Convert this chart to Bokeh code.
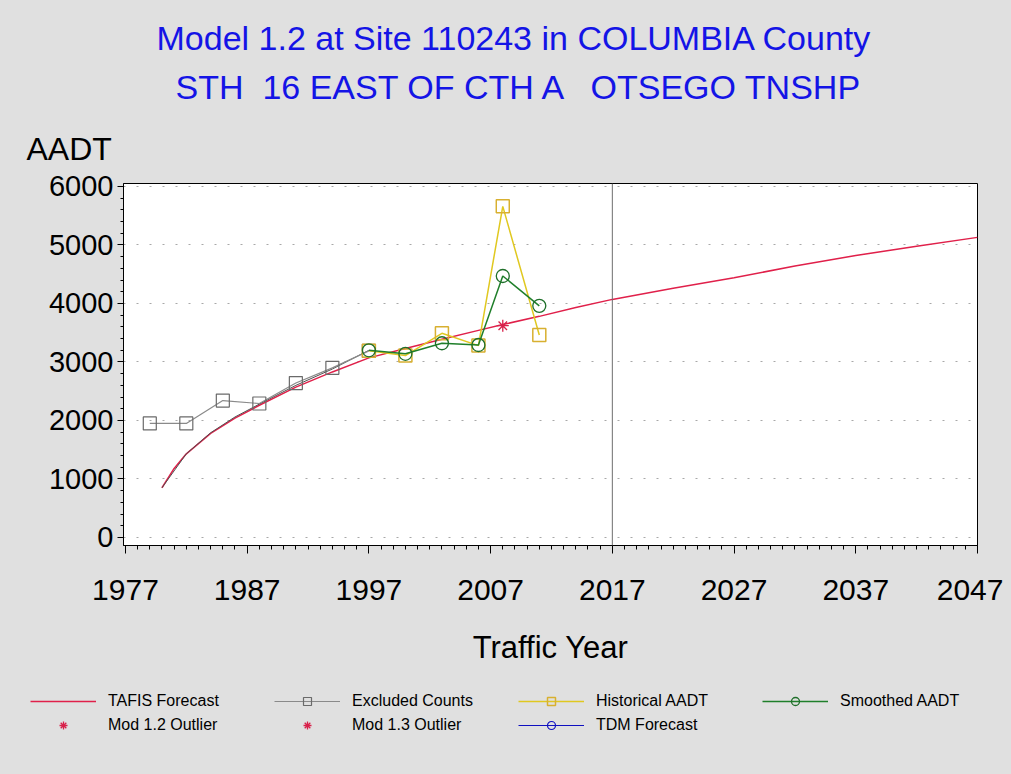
from bokeh.plotting import figure
from bokeh.models import Title, Legend, LegendItem, Span, Range1d, FixedTicker
from bokeh.embed import file_html
from bokeh.resources import INLINE

# ---- data ----
title_line1 = "Model 1.2 at Site 110243 in COLUMBIA County"
title_line2 = "STH \u00a016 EAST OF CTH A \u00a0\u00a0OTSEGO TNSHP"

x_ticks = [1977, 1987, 1997, 2007, 2017, 2027, 2037, 2047]
y_ticks = [0, 1000, 2000, 3000, 4000, 5000, 6000]

tafis_years = [1980, 1981, 1982, 1984, 1986, 1988, 1991, 1994, 1997, 2000, 2003,
               2006, 2008, 2011, 2014, 2017, 2022, 2027, 2032, 2037, 2042, 2047]
tafis_aadt = [850, 1180, 1430, 1780, 2040, 2260, 2570, 2830, 3070, 3230, 3390,
              3540, 3640, 3780, 3930, 4070, 4260, 4440, 4640, 4820, 4980, 5130]

fit_years = [1980, 1982, 1984, 1986, 1988, 1991, 1994, 1997]
fit_aadt = [850, 1430, 1790, 2060, 2280, 2600, 2880, 3200]

excl_years = [1979, 1982, 1985, 1988, 1991, 1994, 1997]
excl_aadt = [1950, 1950, 2340, 2290, 2640, 2900, 3190]

hist_years = [1997, 2000, 2003, 2006, 2008, 2011]
hist_aadt = [3190, 3110, 3490, 3280, 5660, 3460]

smooth_years = [1997, 2000, 2003, 2006, 2008, 2011]
smooth_aadt = [3200, 3140, 3320, 3290, 4470, 3960]

out12_years = [2008]
out12_aadt = [3620]

out13_years = []
out13_aadt = []
tdm_years = []
tdm_aadt = []

forecast_start = 2017

legend_labels = ["TAFIS Forecast", "Excluded Counts", "Historical AADT", "Smoothed AADT",
                 "Mod 1.2 Outlier", "Mod 1.3 Outlier", "TDM Forecast"]

FONT = "Liberation Sans"
BG = "#e0e0e0"

# styles
S_TAFIS = dict(line_color="#e0204a", line_width=1.5)
S_EXCL_L = dict(line_color="#8a8a8a", line_width=1.2)
S_EXCL_M = dict(marker="square", size=13, fill_color=None, line_color="#6a6a6a", line_width=1.2)
S_HIST_L = dict(line_color="#e0c820", line_width=1.5)
S_HIST_M = dict(marker="square", size=13, fill_color=None, line_color="#d8b030", line_width=1.5)
S_TDM_L = dict(line_color="#1010c0", line_width=1.2)
S_TDM_M = dict(marker="circle", size=11, fill_color=None, line_color="#1010c0", line_width=1.2)
S_SM_L = dict(line_color="#1f7f2a", line_width=1.5)
S_SM_M = dict(marker="circle", size=13, fill_color=None, line_color="#1f6f2a", line_width=1.3)
S_OUT = dict(marker="asterisk", size=12, line_color="#d8204a", line_width=1.3)

p = figure(frame_width=854, frame_height=362,
           x_range=Range1d(1976.84, 2047), y_range=Range1d(-137, 6051),
           output_backend="svg", toolbar_location=None,
           min_border_left=123, min_border_right=26,
           min_border_top=183, min_border_bottom=135,
           background_fill_color="white", border_fill_color=BG,
           outline_line_color="black", outline_line_width=1)

# axes
p.xaxis.ticker = FixedTicker(ticks=x_ticks, minor_ticks=list(range(1977, 2048)))
p.yaxis.ticker = FixedTicker(ticks=y_ticks, minor_ticks=list(range(0, 6001, 200)))
for ax in (p.xaxis[0], p.yaxis[0]):
    ax.axis_line_color = "black"
    ax.major_tick_line_color = "black"
    ax.minor_tick_line_color = "black"
    ax.major_tick_in = 0
    ax.minor_tick_in = 0
    ax.major_label_text_font = FONT
    ax.major_label_text_color = "black"
p.xaxis.major_tick_out = 8
p.xaxis.minor_tick_out = 4
p.yaxis.major_tick_out = 6
p.yaxis.minor_tick_out = 3
p.xaxis.major_label_text_font_size = "30px"
p.yaxis.major_label_text_font_size = "29px"
p.xaxis.major_label_standoff = 26
p.yaxis.major_label_standoff = 4
p.xaxis.axis_label = "Traffic Year"
p.xaxis.axis_label_text_font = FONT
p.xaxis.axis_label_text_font_size = "31px"
p.xaxis.axis_label_text_font_style = "normal"
p.xaxis.axis_label_text_color = "black"
p.xaxis.axis_label_standoff = 27

p.xgrid.visible = False
p.ygrid.grid_line_color = "#a8a8a8"
p.ygrid.grid_line_dash = "2 11"
p.ygrid.grid_line_width = 1

# forecast-year reference line
p.add_layout(Span(location=forecast_start, dimension="height",
                  line_color="#6e6e6e", line_width=1))

# series
p.line(tafis_years, tafis_aadt, **S_TAFIS)
p.line(fit_years, fit_aadt, line_color="#505050", line_width=1)
p.line(excl_years, excl_aadt, **S_EXCL_L)
p.scatter(excl_years, excl_aadt, **S_EXCL_M)
p.line(hist_years, hist_aadt, **S_HIST_L)
p.scatter(hist_years, hist_aadt, **S_HIST_M)
p.line(tdm_years, tdm_aadt, **S_TDM_L)
p.scatter(tdm_years, tdm_aadt, **S_TDM_M)
p.line(smooth_years, smooth_aadt, **S_SM_L)
p.scatter(smooth_years, smooth_aadt, **S_SM_M)
p.scatter(out12_years, out12_aadt, **S_OUT)
p.scatter(out13_years, out13_aadt, **S_OUT)

# titles and the y-axis caption
p.add_layout(Title(text="AADT", align="left", offset=-97, text_font=FONT,
                   text_font_size="32px", text_font_style="normal",
                   text_color="black", standoff=33), "above")
p.add_layout(Title(text=title_line2, align="left", offset=52, text_font=FONT,
                   text_font_size="34px", text_font_style="normal",
                   text_color="#1414e6", standoff=14), "above")
p.add_layout(Title(text=title_line1, align="left", offset=33, text_font=FONT,
                   text_font_size="34px", text_font_style="normal",
                   text_color="#1414e6", standoff=4), "above")

# legend strip below the chart (a separate root, so its frame spans the full
# width; its ranges keep the series data out of view, the renderers only
# supply the legend glyphs)
lf = figure(width=1003, height=86, x_range=Range1d(0, 1), y_range=Range1d(0, 1),
            output_backend="svg", toolbar_location=None,
            x_axis_location=None, y_axis_location=None,
            min_border=0, background_fill_color=BG, border_fill_color=BG,
            outline_line_color=None)
lf.grid.visible = False
l_tafis = lf.line(tafis_years, tafis_aadt, **S_TAFIS)
l_excl = [lf.line(excl_years, excl_aadt, **S_EXCL_L),
          lf.scatter(excl_years, excl_aadt, **S_EXCL_M)]
l_hist = [lf.line(hist_years, hist_aadt, **S_HIST_L),
          lf.scatter(hist_years, hist_aadt, **S_HIST_M)]
l_sm = [lf.line(smooth_years, smooth_aadt, **S_SM_L),
        lf.scatter(smooth_years, smooth_aadt, **S_SM_M)]
l_o12 = lf.scatter(out12_years, out12_aadt, **S_OUT)
l_o13 = lf.scatter(out12_years, out12_aadt, **S_OUT)
l_tdm = [lf.line(smooth_years, smooth_aadt, **S_TDM_L),
         lf.scatter(smooth_years, smooth_aadt, **S_TDM_M)]

legend = Legend(items=[
    LegendItem(label=legend_labels[0], renderers=[l_tafis]),
    LegendItem(label=legend_labels[1], renderers=l_excl),
    LegendItem(label=legend_labels[2], renderers=l_hist),
    LegendItem(label=legend_labels[3], renderers=l_sm),
    LegendItem(label=legend_labels[4], renderers=[l_o12]),
    LegendItem(label=legend_labels[5], renderers=[l_o13]),
    LegendItem(label=legend_labels[6], renderers=l_tdm),
], orientation="horizontal", ncols=4, location=(30, 31),
    glyph_width=66, glyph_height=20, label_width=162, label_height=20,
    label_standoff=12, spacing=4, padding=0, margin=0,
    label_text_font=FONT, label_text_font_size="16px", label_text_color="black",
    border_line_color=None, background_fill_alpha=0)
lf.add_layout(legend, "center")

html = file_html([p, lf], INLINE)
html = html.replace("<head>", "<head><style>html,body{background:#e0e0e0;}</style>", 1)
open("out.html", "w").write(html)
